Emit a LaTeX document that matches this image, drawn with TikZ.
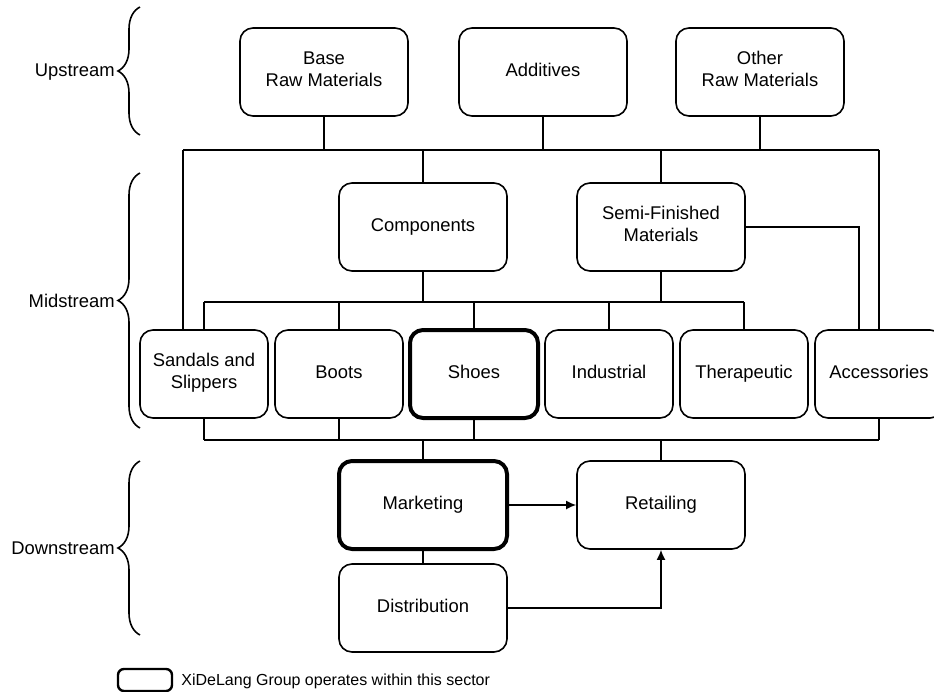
\documentclass[tikz,border=0pt]{standalone}
\usepackage{fontspec}
\setmainfont{Liberation Sans}
\usepackage{tikz}
\usetikzlibrary{arrows.meta}
\usetikzlibrary{decorations.pathreplacing}
\tikzset{every node/.style={inner sep=0pt,font=\fontsize{9.2}{11}\selectfont},
 stage/.style={draw,rounded corners=6.5pt,align=center,line width=0.8pt,
  minimum width=84pt,minimum height=44pt,
  execute at begin node=\strut,execute at end node=\strut},
 product/.style={stage,minimum width=64pt},
 ours/.style={line width=2pt},
 link/.style={line width=0.8pt},
 flow/.style={link,-{Latex[length=5pt,width=4.5pt]}},
 streambrace/.style={decorate,decoration={brace,amplitude=11pt},line width=0.8pt},
 }

\begin{document}
\begin{tikzpicture}[x=0.5pt,y=-0.5pt]
        \useasboundingbox (0,0) rectangle (934,692);
        \node[stage] (base) at (324,72) {Base\\Raw Materials};
        \node[stage] (add) at (543,72) {Additives};
        \node[stage] (other) at (760,72) {Other\\Raw Materials};
        \node[stage] (comp) at (423,227) {Components};
        \node[stage] (semi) at (661,227) {Semi-Finished\\Materials};
        \node[product] (sandals) at (204,374) {Sandals and\\Slippers};
        \node[product] (boots) at (339,374) {Boots};
        \node[product,ours] (shoes) at (474,374) {Shoes};
        \node[product] (indus) at (609,374) {Industrial};
        \node[product] (thera) at (744,374) {Therapeutic};
        \node[product] (acc) at (879,374) {Accessories};
        \node[stage,ours] (mkt) at (423,505) {Marketing};
        \node[stage] (ret) at (661,505) {Retailing};
        \node[stage] (dist) at (423,608) {Distribution};
        \coordinate (topL) at (183,150);
        \coordinate (topR) at (879,150);
        \coordinate (midL) at (204,302);
        \coordinate (midR) at (744,302);
        \coordinate (lowL) at (204,440);
        \coordinate (lowR) at (879,440);
        \draw[link] (topL) -- (topR);
        \foreach \n in {base,add,other,comp,semi}
            \draw[link] (\n) -- (\n |- topL);
        \draw[link] (topL) -- (topL |- sandals.north);
        \draw[link] (topR) -- (topR |- acc.north);
        \draw[link] (midL) -- (midR);
        \draw[link] (comp) -- (comp |- midL);
        \draw[link] (semi) -- (semi |- midL);
        \foreach \n in {sandals,boots,shoes,indus,thera}
            \draw[link] (\n) -- (\n |- midL);
        \draw[link] (semi.east) -| ([xshift=-10pt]acc.north);
        \draw[link] (lowL) -- (lowR);
        \foreach \n in {sandals,boots,shoes,acc,mkt,ret}
            \draw[link] (\n) -- (\n |- lowL);
        \draw[link] (mkt) -- (dist);
        \draw[flow] (mkt) -- (ret);
        \draw[flow] (dist) -| (ret);
        \draw[streambrace] (140,135) -- (140,7);
        \draw[streambrace] (140,428) -- (140,173);
        \draw[streambrace] (140,635) -- (140,461);
        \node[anchor=east] (up) at (115,72) {Upstream};
        \node[anchor=east] (mid) at (115,301) {Midstream};
        \node[anchor=east] (down) at (115,548) {Downstream};
        \node[draw,line width=1.2pt,rounded corners=3pt,minimum width=27pt,minimum height=11pt] (key) at (145,680) {};
        \node[anchor=west,font=\fontsize{8}{9.6}\selectfont] (keytext) at (181,681) {XiDeLang Group operates within this sector};
    \end{tikzpicture}
\end{document}
